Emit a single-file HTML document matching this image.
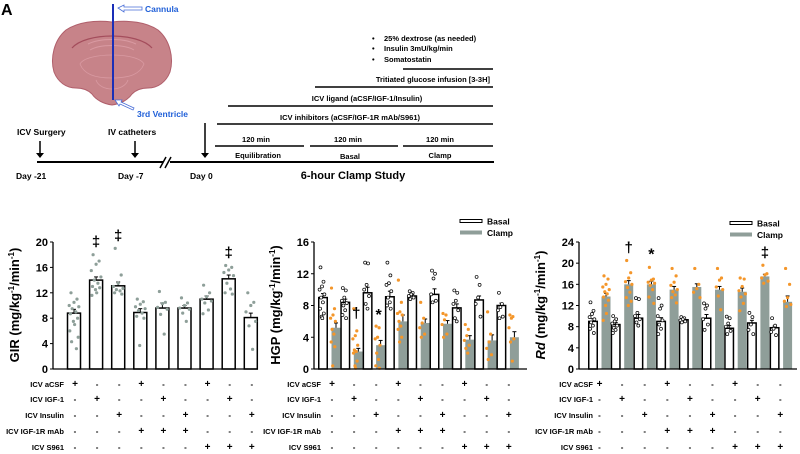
<!DOCTYPE html>
<html><head><meta charset="utf-8"><style>
html,body{margin:0;padding:0;background:#fff;}
svg{display:block;font-family:"Liberation Sans",Arial,sans-serif;font-weight:bold;}
</style></head><body>
<svg id="fig" width="800" height="454" viewBox="0 0 800 454" xmlns="http://www.w3.org/2000/svg">
<g>
<text x="1" y="15" font-size="16">A</text>
<path d="M112,22 C95,20 78,22 66,30 C54,40 50,58 54,72 C58,82 66,88 76,88 C82,88 88,90 92,94 C96,100 104,104 112,105 C120,104 128,100 132,94 C136,90 142,88 148,88 C158,88 166,82 170,72 C174,58 170,40 158,30 C146,22 129,20 112,22 Z" fill="#c78389" stroke="#b05f6b" stroke-width="1"/>
<path d="M72,48 C86,32 138,32 152,48" fill="none" stroke="#a44d5c" stroke-width="1.2"/>
<path d="M88,44 C100,38 124,38 136,44 M90,50 C100,44 124,44 134,50" fill="none" stroke="#d99aa2" stroke-width="1"/>
<path d="M80,64 C86,52 138,52 144,64 C140,74 130,78 112,78 C94,78 84,74 80,64 Z" fill="none" stroke="#d99aa2" stroke-width="0.8"/>
<path d="M96,80 C100,92 124,92 128,80" fill="none" stroke="#d99aa2" stroke-width="0.8"/>
<line x1="113" y1="4" x2="113" y2="100" stroke="#1a2fb8" stroke-width="2"/>
<path d="M118,8 L124,5 L124,7 L142,7 L142,10 L124,10 L124,12 Z" fill="#fff" stroke="#4a6fd8" stroke-width="0.8"/>
<text x="145" y="12" font-size="8.5" fill="#1f5fd8">Cannula</text>
<path d="M115,100 L122,100 L121,102 L134,108 L133,110 L120,104 L119,106 Z" fill="#fff" stroke="#4a6fd8" stroke-width="0.8"/>
<text x="137" y="117" font-size="8.5" fill="#1f5fd8">3rd Ventricle</text>
<line x1="37" y1="162" x2="163" y2="162" stroke="#000" stroke-width="2"/>
<line x1="170" y1="162" x2="494" y2="162" stroke="#000" stroke-width="2"/>
<path d="M160,168 L166,157 M165,168 L171,157" stroke="#000" stroke-width="1.5"/>
<text x="17" y="135" font-size="8.5">ICV Surgery</text>
<text x="108" y="135" font-size="8.5">IV catheters</text>
<g stroke="#000" stroke-width="1.5" fill="#000">
<line x1="40" y1="141" x2="40" y2="154"/><path d="M36,153 L44,153 L40,158 Z" stroke="none"/>
<line x1="135" y1="141" x2="135" y2="154"/><path d="M131,153 L139,153 L135,158 Z" stroke="none"/>
<line x1="205" y1="123" x2="205" y2="154"/><path d="M201,153 L209,153 L205,158 Z" stroke="none"/>
</g>
<text x="16" y="179" font-size="8.5">Day -21</text>
<text x="118" y="179" font-size="8.5">Day -7</text>
<text x="190" y="179" font-size="8.5">Day 0</text>
<g font-size="7.5">
<text x="372" y="41">•</text><text x="384" y="41">25% dextrose (as needed)</text>
<text x="372" y="51">•</text><text x="384" y="51">Insulin 3mU/kg/min</text>
<text x="372" y="62">•</text><text x="384" y="62">Somatostatin</text>
</g>
<g stroke="#000" stroke-width="1.6">
<line x1="403" y1="69" x2="493" y2="69"/>
<line x1="315" y1="87" x2="493" y2="87"/>
<line x1="228" y1="106" x2="493" y2="106"/>
<line x1="217" y1="124" x2="493" y2="124"/>
<line x1="215" y1="146" x2="304" y2="146"/>
<line x1="310" y1="146" x2="398" y2="146"/>
<line x1="403" y1="146" x2="493" y2="146"/>
</g>
<g font-size="7.5" text-anchor="middle">
<text x="490" y="82" text-anchor="end">Tritiated glucose infusion [3-3H]</text>
<text x="367" y="101">ICV ligand (aCSF/IGF-1/Insulin)</text>
<text x="350" y="120">ICV inhibitors (aCSF/IGF-1R mAb/S961)</text>
<text x="256" y="142">120 min</text><text x="348" y="142">120 min</text><text x="440" y="142">120 min</text>
<text x="258" y="158">Equilibration</text>
<text x="350" y="159">Basal</text>
<text x="440" y="158">Clamp</text>
</g>
<text x="353" y="179" font-size="11" text-anchor="middle">6-hour Clamp Study</text>
</g>
<g id="charts"></g>
</svg>
<script>
// ---- data ----
const rowLabels = ["ICV aCSF","ICV IGF-1","ICV Insulin","ICV IGF-1R mAb","ICV S961"];
const signs = [
 ["+","-","-","+","-","-","+","-","-"],
 ["-","+","-","-","+","-","-","+","-"],
 ["-","-","+","-","-","+","-","-","+"],
 ["-","-","-","+","+","+","-","-","-"],
 ["-","-","-","-","-","-","+","+","+"]];
const girMean = [8.8,14,13.1,8.9,9.6,9.6,11,14.2,8.1];
const girErr = [0.6,0.5,0.6,0.6,0.8,0.4,0.5,0.6,0.7];
const girDots = [
 [12,11,10.5,10,9.8,9.5,9,8.7,8,7.5,7,6,5,4.3,3.2],
 [18,17,16.5,15.5,14.5,14,13.5,13,12.8,12.5,12,11.6],
 [19,14.8,13.5,13,12.7,12.5,12.3,12,11.8],
 [11,10.6,10.2,9.8,9.5,9.2,8.8,8.3,8,3.7],
 [12.2,10.5,10.3,9.7,9.4,8.6,5.5],
 [11.2,10.4,10,9.6,9.4,8.8,7.5],
 [13.2,12,11.4,11,10.7,10.4,9.3,8.7],
 [16.3,16,15.6,15.2,14.7,13.5,12.6,12,11.8],
 [12,10.5,10,9,7.5,6.8,3.1]];
const girMarks = ["","‡","‡","","","","","‡",""];
const girTicks = [0,4,8,12,16,20];

const hgpBasal = [9,8.4,9.6,9.1,9.2,9.4,7.7,8.7,8.0];
const hgpBasalErr = [0.5,0.4,0.7,0.7,0.2,0.7,0.5,0.5,0.3];
const hgpClamp = [5.2,2.2,3.0,6.0,5.8,5.7,3.7,3.6,4.0];
const hgpClampErr = [0.6,0.4,0.6,0.8,0.5,0.4,0.5,0.7,0.7];
const hgpBasalDots = [
 [12.8,11,10.4,10,9.4,9,8.4,7.6,7,6.6,6.4],[10.2,9.9,9,8.6,8.3,8,7.4,6.8,6.4],
 [13.4,13.3,10.6,10,9.2,8.2,7.6],[13.4,11.8,10.8,10.6,9.8,9,8.4,8,7.6],
 [9.8,9.6,9.4,9.2,9,8.8],[12.4,12,11.4,9.4,8.6,8.4],[9.9,9.6,8.6,8.2,7.4,6.4,6],
 [11.6,10.6,9,8.2,6.6],[9.6,8.2,7.8,7.4,6.6,6.4]];
const hgpClampDots = [
 [10.2,7.6,6.8,6.4,6,5,4.4,3.4,2.8,0.4],[7.6,4.8,4.2,3.8,3,2.4,2.2,2,1,0.4,0.1],
 [5.4,5.2,4,3.8,3,2,1.2,0.4,0.1],[11.2,8.4,7.2,7,6.8,6,5.4,5,4,3.4],
 [8.4,6.4,5.8,5.2,4.4,4],[7,6.8,6.2,5.6,4.4,4],[5.6,5,4.2,3.6,3,2.6,2],
 [7.2,4.4,3.4,2.6,1.8,1.2],[6.8,6.6,6.4,5.2,3.8,3.4,1]];
const hgpMarks = ["","†","*","","","","","",""];
const hgpMarkLevel = [0,6.4,6.2,0,0,0,0,0,0];
const hgpTicks = [0,4,8,12,16];

const rdBasal = [9,8.4,9.6,9,9.3,9.6,7.7,8.7,7.8];
const rdBasalErr = [0.5,0.4,0.7,0.7,0.3,0.7,0.5,0.5,0.3];
const rdClamp = [13.7,16,16,15,15.5,15,14.6,17.5,12.7];
const rdClampErr = [0.6,0.7,0.6,0.6,0.6,0.6,0.7,0.4,1.1];
const rdBasalDots = [
 [12.6,11,10.4,9.8,9.4,8.8,8.2,7.6,6.8],[10,9.4,9,8.6,8.2,7.8,7.4,6.8],
 [13.4,13.2,10.6,10,9.4,8.8,8.2],[13.4,12,11.4,10,9.2,8.4,7.6,6.6],
 [9.8,9.6,9.4,9.2,9,8.8],[12.4,12,11.4,9.4,8.4,7.4],[9.9,9.6,8.6,8,7.2,6.6],
 [10.6,9.8,8.4,7.4,6.6],[9.6,8.2,7.6,7,6.4]];
const rdClampDots = [
 [17.6,17,16,15.5,15,14.6,14.2,13.6,13,12,10.5,9.2],[20.5,18.2,17.2,16.5,16,15.4,14.5,13.5,12.8,12],
 [19.2,17,16.8,16.4,16.2,15.8,15,13.6,12.4],[19,17.6,16.4,15.8,15,14.6,14,13.5,12.5],
 [19,16,15.2,14.5,13.5],[19,17.2,16.8,15.5,15,13.8,11.2],[17.2,17,15.6,14.8,14.2,13.6,12.4,11],
 [19.6,18,17.8,17.2,16.6,16.2],[19,16,13.5,12.8,12.2,11.8]];
const rdMarks = ["","†","*","","","","","‡",""];
const rdTicks = [0,4,8,12,16,20,24];

// ---- drawing ----
const NS="http://www.w3.org/2000/svg";
const root=document.getElementById("charts");
function mk(tag,attrs,parent){const e=document.createElementNS(NS,tag);for(const k in attrs)e.setAttribute(k,attrs[k]);(parent||root).appendChild(e);return e;}
const jit=[-2.5,2.5,0,-4,4,-1.5,1.5,-3,3,-0.5,0.5,-3.5,3.5,-2,2];

function axes(g,ax,x0,x1,yFn,ticks,titleX,titleParts,italic){
  mk("line",{x1:x0,y1:yFn(0),x2:x1,y2:yFn(0),stroke:"#000","stroke-width":1.3},g);
  mk("line",{x1:x0,y1:yFn(0),x2:x0,y2:yFn(ticks[ticks.length-1]),stroke:"#000","stroke-width":1.3},g);
  ticks.forEach(t=>{
    mk("line",{x1:x0-3,y1:yFn(t),x2:x0,y2:yFn(t),stroke:"#000","stroke-width":1},g);
    const tx=mk("text",{x:x0-5,y:yFn(t)+4,"font-size":11,"text-anchor":"end"},g);
    tx.textContent=t;
    
    
  });
  const tt=mk("text",{x:0,y:0,"font-size":13,"text-anchor":"middle",transform:`translate(${titleX},305) rotate(-90)`},g);
  
  
  const a=mk("tspan",{"font-style":italic?"italic":"normal"},tt);a.textContent=titleParts[0];
  const b=mk("tspan",{},tt);b.textContent=" (mg/kg";
  const c=mk("tspan",{"font-size":8,dy:-5},tt);c.textContent="-1";
  const d=mk("tspan",{dy:5},tt);d.textContent="/min";
  const e=mk("tspan",{"font-size":8,dy:-5},tt);e.textContent="-1";
  const f=mk("tspan",{dy:5},tt);f.textContent=")";
}
function table(g,ax,labelRight,cx){
  const rows=[384,399,415,431,447];
  rowLabels.forEach((lab,r)=>{
    const t=mk("text",{x:labelRight,y:rows[r]+3,"font-size":7.5,"text-anchor":"end"},g);
    t.textContent=lab;
    
    
    signs[r].forEach((s,i)=>{
      const st=mk("text",{x:cx(i),y:rows[r]+3,"font-size":s==="+"?10:8,"text-anchor":"middle"},g);
      st.textContent=s;
      
      
    });
  });
}
function bar(g,name,cx,w,v,err,yFn,fill,stroke){
  const r=mk("rect",{x:cx-w/2,y:yFn(v),width:w,height:yFn(0)-yFn(v),fill:fill,stroke:stroke,"stroke-width":stroke==="none"?0:1.5},g);
  
  
  mk("line",{x1:cx,y1:yFn(v),x2:cx,y2:yFn(v+err),stroke:"#000","stroke-width":1},g);
  mk("line",{x1:cx-2,y1:yFn(v+err),x2:cx+2,y2:yFn(v+err),stroke:"#000","stroke-width":1},g);
}
function dots(g,name,cx,vals,yFn,spread,style){
  vals.forEach((v,k)=>{
    const c=mk("circle",{cx:cx+jit[k%jit.length]*spread,cy:yFn(v),r:style==="open"?1.5:1.6,
      fill:style==="open"?"#fff":style,stroke:style==="open"?"#000":"none","stroke-width":0.7},g);
    
    
  });
}
function marks(g,ax,arr,xFn,yFn,vals){
  arr.forEach((m,i)=>{ if(!m) return;
    const t=mk("text",{x:xFn(i),y:yFn(vals[i])-8,"font-size":m==="*"?16:15,"text-anchor":"middle"},g);
    t.textContent=m;
    
    
  });
}
function legend(g,ax,x,y){
  const b=mk("rect",{x:x,y:y-1.5,width:22,height:3,fill:"#fff",stroke:"#000","stroke-width":1},g);
   
  const bt=mk("text",{x:x+27,y:y+3.5,"font-size":8.5},g); bt.textContent="Basal";
   
  const c=mk("rect",{x:x,y:y+9.5,width:22,height:4,fill:"#8f9e99"},g);
   
  const ct=mk("text",{x:x+27,y:y+15,"font-size":8.5},g); ct.textContent="Clamp";
   
}

// Panel B: GIR
(function(){
  const g=mk("g",{});
   
  const y=v=>369-v*127/20, x=i=>74+22.1*i;
  girMean.forEach((v,i)=>{
    bar(g,'gir-bar',x(i),13,v,girErr[i],y,"#fff","#000");
    dots(g,'gir-dot',x(i),girDots[i],y,1.2,"#8e9f99");
  });
  axes(g,'gir',53,258,y,girTicks,19,["GIR"],false);
  marks(g,'gir',girMarks,x,y,girDots.map(a=>Math.max(...a)));
  table(g,'gir',64,i=>x(i)+1);
})();
// Panel C: HGP
(function(){
  const g=mk("g",{});
   
  const y=v=>369-v*127/16, xb=i=>323+22.3*i, xc=i=>336+22.3*i;
  hgpBasal.forEach((v,i)=>{
    bar(g,'hgp-basal-bar',xb(i),8.5,v,hgpBasalErr[i],y,"#fff","#000");
    bar(g,'hgp-clamp-bar',xc(i),9,hgpClamp[i],hgpClampErr[i],y,"#8f9e99","none");
    dots(g,'hgp-basal-dot',xb(i)-1,hgpBasalDots[i],y,0.6,"open");
    dots(g,'hgp-clamp-dot',xc(i)-3,hgpClampDots[i],y,0.6,"#f4962a");
  });
  axes(g,'hgp',314,527,y,hgpTicks,280,["HGP"],false);
  marks(g,'hgp',hgpMarks,i=>xc(i)-2,v=>y(v)+8,hgpMarkLevel);
  table(g,'hgp',321,i=>332+22.1*i);
  legend(g,'hgp',460,221);
})();
// Panel D: Rd
(function(){
  const g=mk("g",{});
   
  const y=v=>369-v*127/24, xb=i=>593+22.7*i, xc=i=>606+22.7*i;
  rdBasal.forEach((v,i)=>{
    bar(g,'rd-basal-bar',xb(i),8.5,v,rdBasalErr[i],y,"#fff","#000");
    bar(g,'rd-clamp-bar',xc(i),9,rdClamp[i],rdClampErr[i],y,"#8f9e99","none");
    dots(g,'rd-basal-dot',xb(i)-1,rdBasalDots[i],y,0.6,"open");
    dots(g,'rd-clamp-dot',xc(i),rdClampDots[i],y,0.8,"#f4962a");
  });
  axes(g,'rd',579,797,y,rdTicks,545,["Rd"],true);
  marks(g,'rd',rdMarks,xc,y,rdClampDots.map(a=>Math.max(...a)));
  table(g,'rd',593,i=>599.5+22.6*i);
  legend(g,'rd',730,223);
})();
</script>
</body></html>
